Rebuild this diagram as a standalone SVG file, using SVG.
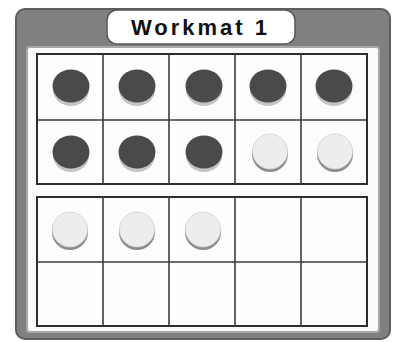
<svg xmlns="http://www.w3.org/2000/svg" width="396" height="342" viewBox="0 0 396 342">
<style>
.grid{fill:#fdfdfd;stroke:#2e2e2e;stroke-width:2}
.ln{stroke:#3a3a3a;stroke-width:1.6}
.dk{fill:#4a4a4a}
.dks{fill:#c4c4c4}
.lt{fill:#ededed;stroke:#d0d0d0;stroke-width:0.8}
.lts{fill:#8a8a8a}
.title{font-family:"Liberation Sans",Arial,sans-serif;font-weight:bold;font-size:22px;letter-spacing:3px;fill:#111}
</style>
<defs>
<g id="dark"><ellipse class="dks" cx="0" cy="4" rx="18" ry="16"/><ellipse class="dk" cx="0" cy="0" rx="18.5" ry="16.5"/></g>
<g id="light"><circle class="lts" cx="0" cy="2" r="18"/><circle class="lt" cx="0" cy="-0.5" r="17.5"/></g>
</defs>
<rect width="396" height="342" fill="#ffffff"/>
<g id="frame">
<rect x="16" y="9" width="374" height="330" rx="9" fill="#808080" stroke="#5e5e5e" stroke-width="2"/>
<rect x="27" y="47" width="352" height="285" rx="3" fill="#fbfbfb" stroke="#a8a8a8" stroke-width="2"/>
</g>
<g id="title">
<rect x="107" y="10" width="188" height="34" rx="10" fill="#ffffff" stroke="#555" stroke-width="1.5"/>
<text class="title" x="200.5" y="35" text-anchor="middle">Workmat 1</text>
</g>
<g id="frame-top">
<rect class="grid" x="37" y="54" width="330" height="130"/>
<line class="ln" x1="37" y1="120" x2="367" y2="120"/>
<line class="ln" x1="103" y1="54" x2="103" y2="184"/>
<line class="ln" x1="169" y1="54" x2="169" y2="184"/>
<line class="ln" x1="235" y1="54" x2="235" y2="184"/>
<line class="ln" x1="301" y1="54" x2="301" y2="184"/>
<use href="#dark" x="71" y="86"/>
<use href="#dark" x="137" y="86"/>
<use href="#dark" x="204" y="86"/>
<use href="#dark" x="268" y="86"/>
<use href="#dark" x="334" y="86"/>
<use href="#dark" x="71" y="152"/>
<use href="#dark" x="137" y="152"/>
<use href="#dark" x="204" y="152"/>
<use href="#light" x="270" y="152"/>
<use href="#light" x="335" y="152"/>
</g>
<g id="frame-bottom">
<rect class="grid" x="37" y="197" width="330" height="129"/>
<line class="ln" x1="37" y1="262" x2="367" y2="262"/>
<line class="ln" x1="103" y1="197" x2="103" y2="326"/>
<line class="ln" x1="169" y1="197" x2="169" y2="326"/>
<line class="ln" x1="235" y1="197" x2="235" y2="326"/>
<line class="ln" x1="301" y1="197" x2="301" y2="326"/>
<use href="#light" x="70" y="230"/>
<use href="#light" x="137" y="230"/>
<use href="#light" x="203" y="230"/>
</g>
</svg>
